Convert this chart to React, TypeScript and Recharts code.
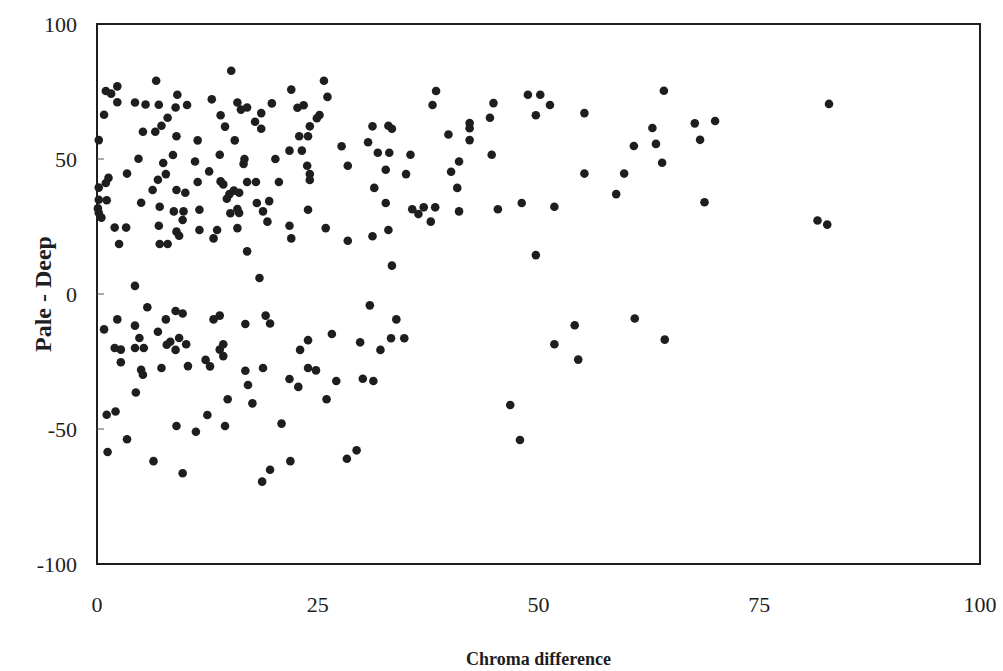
import React from "react";
import {
  ScatterChart,
  Scatter,
  XAxis,
  YAxis,
  ReferenceArea,
  Label,
} from "recharts";

// [chroma difference, pale - deep] pairs.
const upperPoints: [number, number][] = [
  [15.2, 82.7], [6.7, 79.0], [2.3, 76.9], [1.0, 75.2], [1.6, 74.2], [9.1, 73.8],
  [2.3, 71.0], [4.3, 70.9], [5.5, 70.2], [7.0, 70.1], [8.9, 69.1], [10.2, 70.0],
  [13.0, 72.1], [15.9, 70.9], [16.3, 68.3], [17.0, 69.1], [19.8, 70.6], [0.8, 66.4],
  [14.0, 66.2], [18.6, 67.0], [17.9, 63.8], [18.6, 61.2], [8.0, 65.3], [7.3, 62.3],
  [6.6, 60.1], [5.2, 60.1], [14.5, 62.0], [9.0, 58.4], [0.2, 57.0], [11.4, 56.9],
  [15.6, 56.9], [4.7, 50.1], [8.6, 51.5], [7.5, 48.5], [11.1, 49.1], [13.9, 51.6],
  [16.7, 50.0], [16.6, 48.2], [20.2, 50.0], [3.4, 44.6], [7.8, 44.4], [12.7, 45.4],
  [1.3, 43.0], [1.0, 41.1], [6.9, 42.3], [11.4, 41.5], [14.0, 41.7], [14.3, 40.6],
  [17.0, 41.5], [18.0, 41.5], [20.6, 41.5], [0.2, 39.4], [6.3, 38.5], [9.0, 38.5],
  [10.0, 37.5], [15.5, 38.3], [16.1, 37.5], [15.0, 37.0], [14.7, 35.3], [0.2, 34.9],
  [1.1, 34.7], [5.0, 33.8], [7.1, 32.3], [11.6, 31.2], [18.1, 33.7], [19.5, 34.4],
  [0.1, 31.7], [0.2, 30.1], [0.5, 28.3], [8.7, 30.6], [9.8, 30.6], [9.7, 27.4],
  [15.1, 29.9], [16.1, 30.0], [18.8, 30.6], [19.3, 26.8], [15.9, 31.5], [2.0, 24.6],
  [3.3, 24.6], [7.0, 25.3], [11.6, 23.7], [13.6, 23.7], [15.9, 24.4], [9.0, 23.1],
  [9.3, 21.6], [13.2, 20.6], [2.5, 18.5], [7.1, 18.5], [8.0, 18.5], [17.0, 15.8],
  [22.0, 75.7], [25.7, 79.0], [26.1, 73.0], [22.7, 69.0], [23.4, 69.9], [25.2, 66.3],
  [24.9, 65.1], [24.1, 62.1], [22.9, 58.4], [23.9, 58.4], [21.8, 53.1], [23.2, 53.1],
  [23.8, 47.5], [24.1, 44.4], [24.1, 42.2], [27.7, 54.7], [28.4, 47.5], [23.9, 31.2],
  [21.8, 25.3], [22.0, 20.6], [25.9, 24.4], [28.4, 19.7], [31.2, 21.4], [33.0, 23.7],
  [31.2, 62.1], [33.0, 62.3], [33.4, 61.2], [30.7, 56.2], [31.8, 52.3], [33.1, 52.3],
  [35.5, 51.6], [32.7, 46.0], [35.0, 44.4], [31.4, 39.3], [32.7, 33.7], [35.7, 31.4],
  [36.4, 29.6], [37.0, 32.1], [38.3, 32.1], [37.8, 26.8], [38.4, 75.2], [38.0, 70.0],
  [42.2, 63.3], [42.2, 61.4], [42.2, 57.0], [39.8, 59.1], [41.0, 49.1], [40.1, 45.3],
  [40.8, 39.3], [41.0, 30.6],
  [44.9, 70.7], [44.5, 65.3], [44.7, 51.6], [45.4, 31.4], [48.8, 73.8], [50.2, 73.8],
  [51.3, 70.0], [49.7, 66.2], [55.2, 67.0], [48.1, 33.7], [51.8, 32.3], [49.7, 14.4],
  [55.2, 44.6], [59.7, 44.6], [58.8, 37.0], [60.8, 54.8], [62.9, 61.5], [63.3, 55.6],
  [64.0, 48.6], [64.2, 75.3], [67.7, 63.2], [70.0, 64.1], [68.3, 57.1], [68.8, 34.0],
  [82.9, 70.4], [81.6, 27.2], [82.7, 25.7],
];

const lowerPoints: [number, number][] = [
  [18.4, 5.9], [4.3, 3.0], [0.8, -13.1], [2.3, -9.4], [5.7, -4.9], [4.3, -11.7],
  [4.8, -16.3], [2.0, -20.0], [2.7, -20.6], [4.3, -20.0], [5.3, -20.0], [2.7, -25.3],
  [5.0, -28.1], [5.2, -29.9], [4.4, -36.5], [1.1, -44.7], [2.1, -43.5], [3.4, -53.8],
  [7.8, -9.4], [6.9, -14.0], [8.9, -6.3], [9.7, -7.2], [9.3, -16.3], [7.9, -18.8],
  [8.3, -17.7], [8.9, -20.7], [10.1, -18.6], [7.3, -27.4], [10.3, -26.7], [13.2, -9.4],
  [13.9, -8.0], [12.3, -24.4], [12.8, -26.8], [13.9, -20.6], [14.3, -18.6], [14.3, -23.0],
  [14.8, -39.0], [12.5, -44.8], [9.0, -48.9], [11.2, -51.0], [14.5, -48.9], [16.8, -11.1],
  [19.1, -8.0], [19.6, -10.9], [16.8, -28.4], [17.1, -33.7], [17.6, -40.5], [18.8, -27.4],
  [20.9, -48.0], [21.8, -31.5],
  [33.4, 10.5], [30.9, -4.2], [33.9, -9.4], [33.3, -16.4], [34.8, -16.4], [32.1, -20.7],
  [29.8, -17.9], [26.6, -14.8], [23.9, -17.1], [23.0, -20.7], [23.9, -27.4], [24.8, -28.3],
  [22.8, -34.4], [27.1, -32.2], [30.1, -31.4], [31.3, -32.2], [26.0, -39.0],
  [1.2, -58.5], [6.4, -61.9], [9.7, -66.4], [18.7, -69.5], [19.6, -65.1], [21.9, -61.9],
  [28.3, -61.0], [29.4, -57.9], [47.9, -54.1],
  [54.1, -11.6], [51.8, -18.6], [54.5, -24.3], [60.9, -9.1], [64.3, -16.9], [46.8, -41.1],
];

const xTicks = [0, 25, 50, 75, 100];
const yTicks = [-100, -50, 0, 50, 100];

const points = [...upperPoints, ...lowerPoints].map(([chroma, paleDeep]) => ({
  chroma,
  paleDeep,
}));

const FONT = '"Liberation Serif", "Times New Roman", serif';
const INK = "#1e1e1e";

// y ticks: label left of the frame, small tick pointing into the plot
const YTick = (props: any) => {
  const { x, y, payload } = props;
  const edge = payload.value === 100 || payload.value === -100;
  return (
    <g>
      {!edge && (
        <line x1={x + 20} x2={x + 27} y1={y} y2={y} stroke="#555" strokeWidth={1} />
      )}
      <text
        x={x}
        y={y}
        dy="0.35em"
        textAnchor="end"
        fontFamily={FONT}
        fontSize={22}
        fill={INK}
      >
        {payload.value}
      </text>
    </g>
  );
};

const Dot = (props: any) => <circle cx={props.cx} cy={props.cy} r={4.3} fill={INK} />;

export default function App() {
  return (
    <div style={{ position: "absolute", left: 0, top: 0, background: "#fff" }}>
      <ScatterChart
        width={1003}
        height={671}
        margin={{ top: 24, right: 23, bottom: 0, left: 0 }}
      >
        <XAxis
          type="number"
          dataKey="chroma"
          domain={[0, 100]}
          ticks={xTicks}
          axisLine={false}
          tickLine={false}
          tickSize={0}
          tickMargin={32}
          height={107}
          tick={{ fontFamily: FONT, fontSize: 22, fill: INK }}
        >
          <Label
            value="Chroma difference"
            position="insideBottom"
            offset={6}
            style={{ fontFamily: FONT, fontSize: 18, fontWeight: "bold", fill: INK }}
          />
        </XAxis>
        <YAxis
          type="number"
          dataKey="paleDeep"
          domain={[-100, 100]}
          ticks={yTicks}
          axisLine={false}
          tickLine={false}
          tickSize={0}
          tickMargin={20}
          width={97}
          tick={<YTick />}
        >
          <Label
            value="Pale - Deep"
            angle={-90}
            position="insideLeft"
            offset={42}
            style={{
              fontFamily: FONT,
              fontSize: 24,
              fontWeight: "bold",
              fill: INK,
              textAnchor: "middle",
            }}
          />
        </YAxis>
        <ReferenceArea
          x1={0}
          x2={100}
          y1={-100}
          y2={100}
          fill="none"
          stroke={INK}
          strokeWidth={2}
        />
        <Scatter data={points} shape={<Dot />} isAnimationActive={false} />
      </ScatterChart>
    </div>
  );
}
